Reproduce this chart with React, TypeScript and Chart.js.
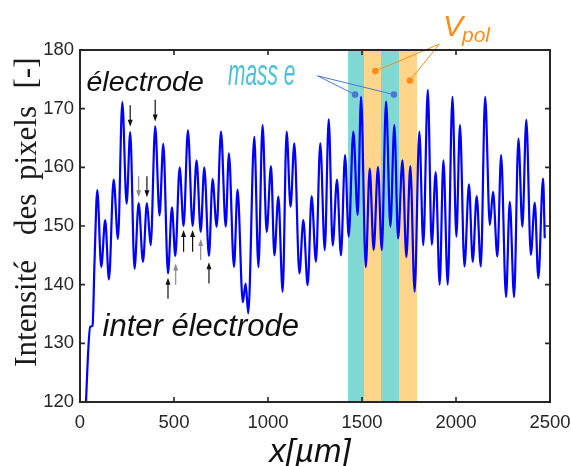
import React, { useEffect, useRef } from "react";
import { Chart, registerables } from "chart.js";

Chart.register(...registerables);

// ---- data ----
const positionsUm = [32,42,54,67,77,92,113,134,154,179,202,225,248,267,290,312,335,356,376,400,423,443,468,489,507,530,551,574,599,620,642,661,686,705,727,750,775,792,819,838,866,881,895,927,949,971,993,1016,1034,1055,1078,1099,1120,1140,1167,1188,1211,1232,1255,1278,1302,1323,1344,1367,1388,1410,1429,1454,1477,1495,1520,1541,1562,1585,1605,1628,1651,1672,1692,1715,1736,1757,1780,1805,1826,1850,1871,1892,1913,1933,1956,1981,2002,2021,2045,2069,2089,2110,2132,2155,2180,2197,2220,2240,2266,2286,2309,2332,2353,2374,2398,2419,2438,2463,2472];
const intensity = [120,127.7,132.8,133.1,143.6,156.1,143,151,140.9,157.9,147.8,171.1,153.8,166,142.7,153.9,143.9,153.9,146.7,167,151.8,164,141.9,153.2,144.9,160,150,166.3,150,161.2,149,160,144.9,158,149.9,166.1,149.9,162.4,143,156.2,137,140.2,135.1,165.2,143,167.2,149,160.2,145,155,138.8,166.1,153.3,164.1,141.9,151,139.9,155.1,143.9,164.1,145.9,168.2,146.7,157.9,145,162.1,148.2,166.1,151.9,172,143,159.8,145.9,160.1,145.9,171.2,149.9,167.2,147.9,161.2,144.7,160.2,138.8,166.1,146.7,173.2,146.8,159.2,140,161.2,140,172,148.2,167.2,143.1,157.1,143.9,155.1,143.1,172,150.2,155.8,144.8,162.1,137.9,154.1,137.9,164.9,149.9,168.1,145.1,154,141.1,158.1,147.9];

const xTicks = [0, 500, 1000, 1500, 2000, 2500];
const yTicks = [120, 130, 140, 150, 160, 170, 180];

// bands: masse / Vpol / masse / Vpol
const bandStart = [1426, 1511, 1601, 1700];
const bandEnd = [1511, 1601, 1700, 1793];
const bandKind = ["masse", "vpol", "masse", "vpol"];

// arrows (x position, tail value, head value, shade)
const arrowX = [267, 400, 312, 356, 468, 509, 551, 599, 642, 686];
const arrowFrom = [170.6, 171.5, 158.5, 158.5, 137.6, 140, 145.6, 145.6, 144.2, 140.2];
const arrowTo = [166.9, 167.8, 154.9, 154.9, 141.2, 143.6, 149.3, 149.3, 147.8, 143.8];
const arrowShade = ["dark", "dark", "gray", "dark", "dark", "gray", "dark", "dark", "gray", "dark"];

// callouts
const masseOrigin = [1263, 175.6];
const masseDotsX = [1463, 1670];
const masseDotsY = [172.4, 172.4];
const vpolOrigin = [1911, 181];
const vpolDotsX = [1571, 1755];
const vpolDotsY = [176.4, 174.8];

const COL_TEAL = "#80d8d4";
const COL_ORANGE = "#fed58b";
const COL_FRAME = "#262626";

const overlay = {
  id: "overlay",
  beforeDatasetsDraw(chart: any) {
    const { ctx, chartArea: a, scales } = chart;
    const xs = scales.x;
    ctx.save();
    for (let i = 0; i < bandStart.length; i++) {
      const x0 = xs.getPixelForValue(bandStart[i]);
      const x1 = xs.getPixelForValue(bandEnd[i]);
      ctx.fillStyle = bandKind[i] === "masse" ? COL_TEAL : COL_ORANGE;
      ctx.fillRect(x0, a.top, x1 - x0, a.bottom - a.top);
    }
    ctx.restore();
  },
  afterDatasetsDraw(chart: any) {
    const { ctx, scales } = chart;
    const xs = scales.x;
    const ys = scales.y;
    ctx.save();
    for (let i = 0; i < arrowX.length; i++) {
      const px = xs.getPixelForValue(arrowX[i]);
      const p0 = ys.getPixelForValue(arrowFrom[i]);
      const p1 = ys.getPixelForValue(arrowTo[i]);
      const col = arrowShade[i] === "gray" ? "#8a8a8a" : "#111111";
      const dir = p1 > p0 ? 1 : -1;
      ctx.strokeStyle = col;
      ctx.fillStyle = col;
      ctx.lineWidth = 1.2;
      ctx.beginPath();
      ctx.moveTo(px, p0);
      ctx.lineTo(px, p1 - dir * 5);
      ctx.stroke();
      ctx.beginPath();
      ctx.moveTo(px, p1);
      ctx.lineTo(px - 2.5, p1 - dir * 7);
      ctx.lineTo(px + 2.5, p1 - dir * 7);
      ctx.closePath();
      ctx.fill();
    }
    const mox = xs.getPixelForValue(masseOrigin[0]);
    const moy = ys.getPixelForValue(masseOrigin[1]);
    ctx.strokeStyle = "#4a78d0";
    ctx.fillStyle = "#4a78d0";
    ctx.lineWidth = 1;
    for (let i = 0; i < masseDotsX.length; i++) {
      const dx = xs.getPixelForValue(masseDotsX[i]);
      const dy = ys.getPixelForValue(masseDotsY[i]);
      ctx.beginPath();
      ctx.moveTo(mox, moy);
      ctx.lineTo(dx, dy);
      ctx.stroke();
      ctx.beginPath();
      ctx.arc(dx, dy, 3.3, 0, Math.PI * 2);
      ctx.fill();
    }
    const vox = xs.getPixelForValue(vpolOrigin[0]);
    const voy = ys.getPixelForValue(vpolOrigin[1]);
    ctx.strokeStyle = "#ff8c1a";
    ctx.fillStyle = "#ff8c1a";
    for (let i = 0; i < vpolDotsX.length; i++) {
      const dx = xs.getPixelForValue(vpolDotsX[i]);
      const dy = ys.getPixelForValue(vpolDotsY[i]);
      ctx.beginPath();
      ctx.moveTo(vox, voy);
      ctx.lineTo(dx, dy);
      ctx.stroke();
      ctx.beginPath();
      ctx.arc(dx, dy, 3.3, 0, Math.PI * 2);
      ctx.fill();
    }
    ctx.restore();
  },
  afterDraw(chart: any) {
    const { ctx, chartArea: a, scales } = chart;
    const xs = scales.x;
    const ys = scales.y;
    ctx.save();
    ctx.strokeStyle = COL_FRAME;
    ctx.lineWidth = 2;
    ctx.strokeRect(a.left, a.top, a.right - a.left, a.bottom - a.top);
    ctx.lineWidth = 1.6;
    ctx.beginPath();
    for (const v of xTicks) {
      const px = xs.getPixelForValue(v);
      ctx.moveTo(px, a.bottom);
      ctx.lineTo(px, a.bottom - 5);
      ctx.moveTo(px, a.top);
      ctx.lineTo(px, a.top + 5);
    }
    for (const v of yTicks) {
      const py = ys.getPixelForValue(v);
      ctx.moveTo(a.left, py);
      ctx.lineTo(a.left + 5, py);
      ctx.moveTo(a.right, py);
      ctx.lineTo(a.right - 5, py);
    }
    ctx.stroke();

    ctx.textBaseline = "alphabetic";
    ctx.textAlign = "left";
    ctx.fillStyle = "#111111";
    ctx.font = 'italic 28.5px "Liberation Sans", Arial, sans-serif';
    ctx.fillText("électrode", 86.5, 90.5);

    ctx.save();
    ctx.beginPath();
    ctx.rect(95, 290, 203, 60);
    ctx.clip();
    ctx.font = 'italic 31px "Liberation Sans", Arial, sans-serif';
    ctx.fillText("inter électrode", 102.5, 336);
    ctx.restore();

    ctx.save();
    ctx.translate(228, 85);
    ctx.scale(0.58, 1);
    ctx.fillStyle = "#4dbfd8";
    ctx.font = 'italic 36px "Liberation Sans", Arial, sans-serif';
    ctx.fillText("mass e", 0, 0);
    ctx.restore();

    ctx.fillStyle = "#ff8c1a";
    ctx.font = 'italic 30px "Liberation Sans", Arial, sans-serif';
    ctx.fillText("V", 443, 36);
    ctx.font = 'italic 21px "Liberation Sans", Arial, sans-serif';
    ctx.fillText("pol", 462, 42);

    ctx.save();
    ctx.translate(35.5, 0);
    ctx.rotate(-Math.PI / 2);
    ctx.fillStyle = "#1a1a1a";
    ctx.font = '31px "Liberation Serif", "Times New Roman", serif';
    const words = ["Intensité", "des", "pixels", "[-]"];
    const starts = [366.7, 235, 180, 88.5];
    for (let i = 0; i < words.length; i++) {
      ctx.fillText(words[i], -starts[i], 0);
    }
    ctx.restore();

    ctx.fillStyle = "#111111";
    ctx.textAlign = "center";
    ctx.font = 'italic 33px "Liberation Sans", Arial, sans-serif';
    ctx.fillText("x[µm]", 310, 462);
    ctx.restore();
  },
};

export default function App() {
  const ref = useRef<HTMLCanvasElement | null>(null);
  useEffect(() => {
    document.body.style.margin = "0";
    const canvas = ref.current!;
    const data = positionsUm.map((x, i) => ({ x, y: intensity[i] }));
    const chart = new Chart(canvas, {
      type: "line",
      data: {
        datasets: [
          {
            data,
            borderColor: "#0000ff",
            borderWidth: 2.2,
            pointRadius: 0,
            cubicInterpolationMode: "monotone",
            fill: false,
          },
        ],
      },
      options: {
        animation: false,
        responsive: false,
        devicePixelRatio: 1,
        events: [],
        layout: { padding: { top: 50, right: 21, left: 0, bottom: 0 } },
        plugins: { legend: { display: false }, tooltip: { enabled: false } },
        scales: {
          x: {
            type: "linear",
            min: 0,
            max: 2500,
            afterBuildTicks: (s: any) => {
              s.ticks = xTicks.map((v) => ({ value: v }));
            },
            afterFit: (s: any) => {
              s.height = 64;
              s.paddingLeft = 0;
              s.paddingRight = 0;
            },
            grid: { display: false, drawTicks: false },
            border: { display: false },
            ticks: {
              padding: 10,
              color: COL_FRAME,
              font: { family: '"Liberation Sans", Arial, sans-serif', size: 18.5 },
              maxRotation: 0,
              autoSkip: false,
              callback: (v: any) => String(v),
            },
          },
          y: {
            type: "linear",
            min: 120,
            max: 180,
            afterBuildTicks: (s: any) => {
              s.ticks = yTicks.map((v) => ({ value: v }));
            },
            afterFit: (s: any) => {
              s.width = 80;
              s.paddingTop = 0;
              s.paddingBottom = 0;
            },
            grid: { display: false, drawTicks: false },
            border: { display: false },
            ticks: {
              padding: 6,
              color: COL_FRAME,
              font: { family: '"Liberation Sans", Arial, sans-serif', size: 18.5 },
              callback: (v: any) => String(v),
            },
          },
        },
      },
      plugins: [overlay],
    } as any);
    return () => chart.destroy();
  }, []);
  return (
    <div style={{ width: 571, height: 466 }}>
      <canvas ref={ref} width={571} height={466} style={{ display: "block" }} />
    </div>
  );
}
